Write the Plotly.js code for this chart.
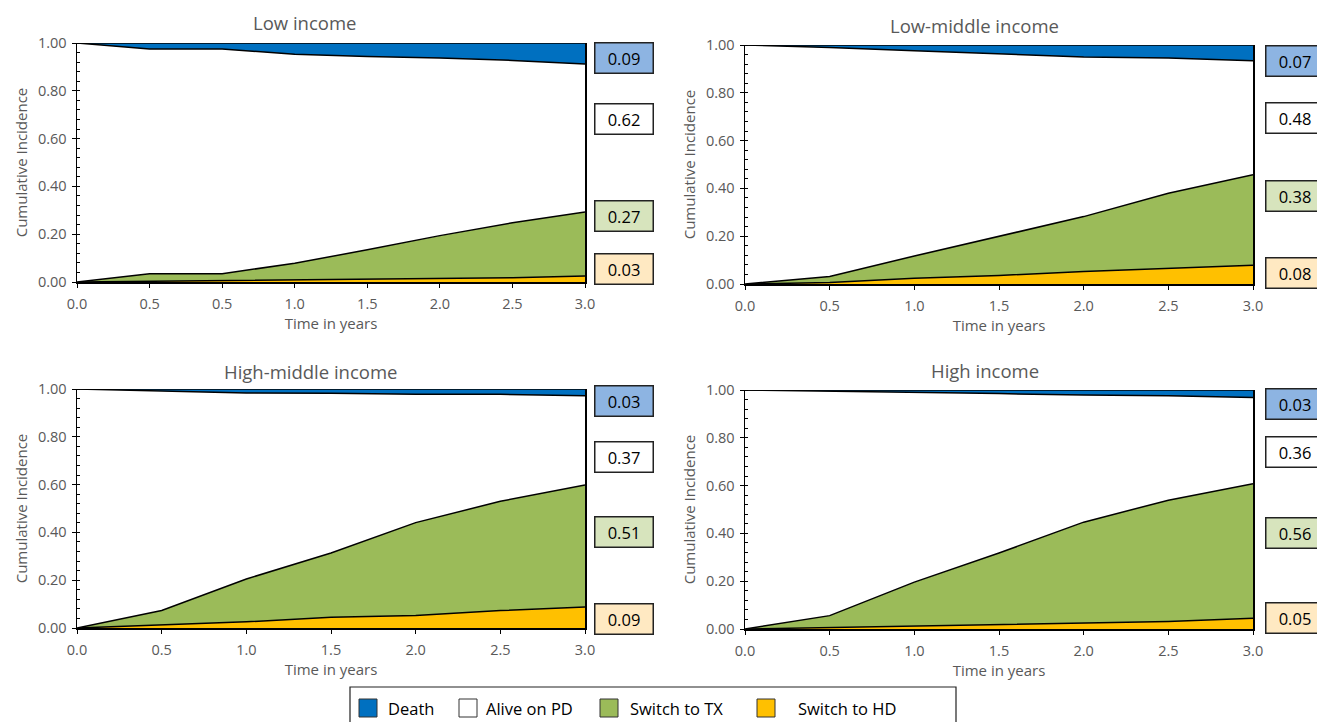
<!DOCTYPE html>
<html>
<head>
<meta charset="utf-8">
<script src="https://cdn.plot.ly/plotly-3.0.1.min.js"></script>
<style>
  html, body { margin: 0; padding: 0; background: #fff; }
  #chart { width: 1317px; height: 722px; }
</style>
</head>
<body>
<div id="chart"></div>
<script>
// ---------------- DATA ----------------
var seriesNames = ["Death", "Alive on PD", "Switch to TX", "Switch to HD"];
var panelTitles = ["Low income", "Low-middle income", "High-middle income", "High income"];

// x tick labels (time in years) — the first panel's source axis repeats 0.5
var lowTicks = ["0.0", "0.5", "0.5", "1.0", "1.5", "2.0", "2.5", "3.0"];
var stdTicks = ["0.0", "0.5", "1.0", "1.5", "2.0", "2.5", "3.0"];

// Low income
var lowHD    = [0, 0.003, 0.004, 0.008, 0.012, 0.015, 0.018, 0.025];
var lowTX    = [0, 0.032, 0.031, 0.070, 0.123, 0.179, 0.230, 0.268];
var lowDeath = [0, 0.025, 0.025, 0.047, 0.057, 0.063, 0.073, 0.088];
var lowLabels = [0.09, 0.62, 0.27, 0.03];

// Low-middle income
var lmHD    = [0, 0.006, 0.024, 0.036, 0.052, 0.066, 0.078];
var lmTX    = [0, 0.025, 0.093, 0.162, 0.230, 0.314, 0.379];
var lmDeath = [0, 0.010, 0.024, 0.038, 0.050, 0.054, 0.066];
var lmLabels = [0.07, 0.48, 0.38, 0.08];

// High-middle income
var hmHD    = [0, 0.014, 0.026, 0.045, 0.052, 0.073, 0.088];
var hmTX    = [0, 0.059, 0.179, 0.269, 0.389, 0.457, 0.510];
var hmDeath = [0, 0.008, 0.017, 0.018, 0.022, 0.022, 0.028];
var hmLabels = [0.03, 0.37, 0.51, 0.09];

// High income
var hiHD    = [0, 0.006, 0.013, 0.020, 0.025, 0.031, 0.045];
var hiTX    = [0, 0.050, 0.183, 0.298, 0.422, 0.508, 0.563];
var hiDeath = [0, 0.004, 0.008, 0.015, 0.021, 0.024, 0.031];
var hiLabels = [0.03, 0.36, 0.56, 0.05];

// ---------------- STYLE / LAYOUT CONSTANTS ----------------
var W = 1317, H = 722;
function px(x) { return x / W; }
function py(y) { return 1 - y / H; }

var areaColors = { death: "#0070C0", alive: "#FFFFFF", tx: "#9BBB59", hd: "#FFC000" };
var boxColors = ["#8DB4E2", "#FFFFFF", "#D7E4BD", "#FFE9C2"];
var gray = "#595959";
var FONT = "Open Sans, Noto Sans, DejaVu Sans, sans-serif";

var panels = [
  { ticks: lowTicks, hd: lowHD, tx: lowTX, death: lowDeath, labels: lowLabels,
    dom: [77, 585, 43, 282], title: [304, 22], boxX: 624, boxY: [58, 119, 215.5, 269] },
  { ticks: stdTicks, hd: lmHD, tx: lmTX, death: lmDeath, labels: lmLabels,
    dom: [745, 1253, 45, 284], title: [974, 26], boxX: 1295, boxY: [61, 118.5, 195.5, 272.5] },
  { ticks: stdTicks, hd: hmHD, tx: hmTX, death: hmDeath, labels: hmLabels,
    dom: [77, 585, 389, 628], title: [310, 371], boxX: 624, boxY: [401, 456.5, 532, 618.5] },
  { ticks: stdTicks, hd: hiHD, tx: hiTX, death: hiDeath, labels: hiLabels,
    dom: [745, 1253, 390, 629], title: [985, 370], boxX: 1295, boxY: [403.5, 451.5, 532.5, 618] }
];

var traces = [];
var layout = {
  width: W, height: H,
  margin: { l: 0, r: 0, t: 0, b: 0 },
  paper_bgcolor: "#fff", plot_bgcolor: "#fff",
  showlegend: false,
  font: { family: FONT, color: gray },
  annotations: [], shapes: []
};

panels.forEach(function (p, i) {
  var n = p.ticks.length;
  var xs = p.ticks.map(function (_, k) { return k; });
  var alive = xs.map(function (k) { return 1 - p.hd[k] - p.tx[k] - p.death[k]; });
  var xa = i === 0 ? "x" : "x" + (i + 1);
  var ya = i === 0 ? "y" : "y" + (i + 1);
  var sg = "s" + i;
  var lineSty = { color: "#000", width: 1.5, shape: "linear" };
  var series = [
    { y: p.hd, c: areaColors.hd, name: seriesNames[3] },
    { y: p.tx, c: areaColors.tx, name: seriesNames[2] },
    { y: alive, c: areaColors.alive, name: seriesNames[1] },
    { y: p.death, c: areaColors.death, name: seriesNames[0] }
  ];
  series.forEach(function (s) {
    traces.push({
      type: "scatter", mode: "lines", x: xs, y: s.y, xaxis: xa, yaxis: ya,
      stackgroup: sg, fillcolor: s.c, line: lineSty, name: s.name,
      hoverinfo: "skip", showlegend: false
    });
  });

  var d = p.dom;
  layout["xaxis" + (i === 0 ? "" : i + 1)] = {
    domain: [px(d[0]), px(d[1])], anchor: ya,
    range: [0, n - 1], tickmode: "array", tickvals: xs, ticktext: p.ticks,
    ticks: "outside", ticklen: 4, tickwidth: 1, tickcolor: "#000",
    ticklabelstandoff: 4,
    showline: true, linecolor: "#000", linewidth: 1.5,
    showgrid: false, zeroline: false, fixedrange: true,
    tickfont: { family: FONT, size: 14.5, color: gray },
    title: { text: "Time in years", font: { family: FONT, size: 15, color: gray }, standoff: 4 }
  };
  layout["yaxis" + (i === 0 ? "" : i + 1)] = {
    domain: [py(d[3]), py(d[2])], anchor: xa,
    range: [0, 1], tickmode: "array", tickvals: [0, 0.2, 0.4, 0.6, 0.8, 1.0],
    tickformat: ".2f",
    ticks: "outside", ticklen: 4, tickwidth: 1, tickcolor: "#000",
    ticklabelstandoff: 2,
    minor: { dtick: 0.04, tick0: 0, ticks: "inside", ticklen: 3, tickwidth: 1, tickcolor: "#000", showgrid: false },
    showline: true, linecolor: "#000", linewidth: 1.5, mirror: true,
    showgrid: false, zeroline: false, fixedrange: true,
    tickfont: { family: FONT, size: 14.5, color: gray },
    title: { text: "Cumulative Incidence", font: { family: FONT, size: 15, color: gray }, standoff: 6 }
  };

  // panel title
  layout.annotations.push({
    xref: "paper", yref: "paper", x: px(p.title[0]), y: py(p.title[1]),
    xanchor: "center", yanchor: "middle", showarrow: false,
    text: panelTitles[i], font: { family: FONT, size: 18.5, color: gray }
  });

  // value boxes at the right
  p.labels.forEach(function (v, k) {
    layout.annotations.push({
      xref: "paper", yref: "paper", x: px(p.boxX), y: py(p.boxY[k]),
      xanchor: "center", yanchor: "middle", showarrow: false,
      text: v.toFixed(2), font: { family: FONT, size: 16.5, color: "#000" },
      bgcolor: boxColors[k], bordercolor: "#222", borderwidth: 1.5, borderpad: 1,
      width: 55, height: 27, align: "center", valign: "middle"
    });
  });
});

// ---------------- LEGEND (bottom box) ----------------
var legendColors = [areaColors.death, areaColors.alive, areaColors.tx, areaColors.hd];
var legSquareX = [359, 459, 600, 757];
var legTextX = [386, 484, 628, 796];
layout.shapes.push({
  type: "rect", xref: "paper", yref: "paper",
  x0: px(350), x1: px(956), y0: py(740), y1: py(687),
  line: { color: "#222", width: 1.2 }, fillcolor: "rgba(0,0,0,0)"
});
seriesNames.forEach(function (nm, k) {
  layout.shapes.push({
    type: "rect", xref: "paper", yref: "paper",
    x0: px(legSquareX[k]), x1: px(legSquareX[k] + 18), y0: py(717), y1: py(699),
    line: { color: "#333", width: 1 }, fillcolor: legendColors[k]
  });
  layout.annotations.push({
    xref: "paper", yref: "paper", x: px(legTextX[k]), y: py(708),
    xanchor: "left", yanchor: "middle", showarrow: false,
    text: nm, font: { family: FONT, size: 16.5, color: "#000" }
  });
});

Plotly.newPlot("chart", traces, layout, { staticPlot: true, displayModeBar: false });
</script>
</body>
</html>
